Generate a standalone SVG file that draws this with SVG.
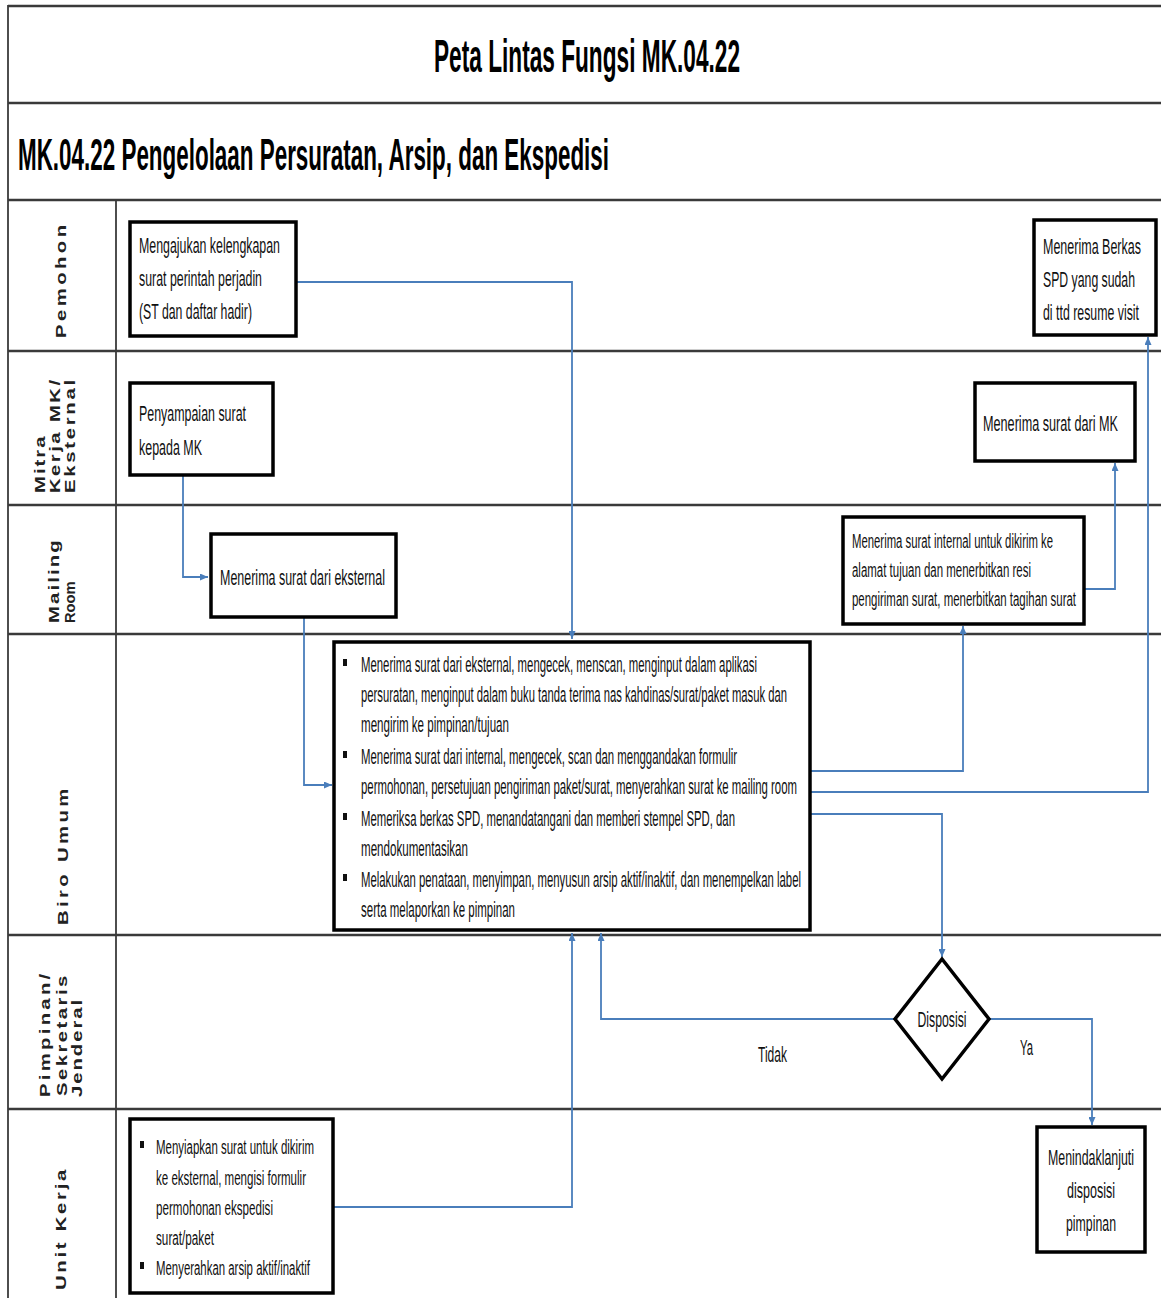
<svg xmlns="http://www.w3.org/2000/svg" width="1161" height="1298" viewBox="0 0 1161 1298">
<defs>
<style>
.frame{stroke:#3a3a3a;stroke-width:2.6;fill:none}
.vline{stroke:#3a3a3a;stroke-width:1.8;fill:none}
.box{fill:#fff;stroke:#000;stroke-width:3.5}
.dia{fill:#fff;stroke:#000;stroke-width:3.5}
.t{font-family:"Liberation Sans",Arial,sans-serif;font-size:22px;fill:#111}
.ts{font-family:"Liberation Sans",Arial,sans-serif;font-size:20px;fill:#111}
.lane{font-family:"Liberation Sans",Arial,sans-serif;font-size:14px;font-weight:bold;fill:#222}
.title{font-family:"Liberation Sans",Arial,sans-serif;font-weight:bold;fill:#000}
.conn{fill:none;stroke:#4A7EBB;stroke-width:1.8}
</style>
<marker id="ah" viewBox="0 0 8 7" refX="8" refY="3.5" markerWidth="8" markerHeight="7" markerUnits="userSpaceOnUse" orient="auto">
<path d="M0,0 L8,3.5 L0,7 z" fill="#4A7EBB"/>
</marker>
</defs>
<rect x="0" y="0" width="1161" height="1298" fill="#fff"/>

<g id="frame">
<line class="frame" x1="8" y1="6" x2="1161" y2="6"/>
<line class="frame" x1="8" y1="103" x2="1161" y2="103"/>
<line class="frame" x1="8" y1="200" x2="1161" y2="200"/>
<line class="frame" x1="8" y1="351" x2="1161" y2="351"/>
<line class="frame" x1="8" y1="505" x2="1161" y2="505"/>
<line class="frame" x1="8" y1="634" x2="1161" y2="634"/>
<line class="frame" x1="8" y1="935" x2="1161" y2="935"/>
<line class="frame" x1="8" y1="1109" x2="1161" y2="1109"/>
<line class="vline" x1="8" y1="5" x2="8" y2="1298"/>
<line class="vline" x1="116" y1="200" x2="116" y2="1298"/>
<text class="title" x="587" y="72" font-size="46" text-anchor="middle" textLength="306" lengthAdjust="spacingAndGlyphs">Peta Lintas Fungsi MK.04.22</text>
<text class="title" x="18" y="170" font-size="45" textLength="591" lengthAdjust="spacingAndGlyphs">MK.04.22 Pengelolaan Persuratan, Arsip, dan Ekspedisi</text>
</g>

<g id="lanes">
<text class="lane" transform="translate(66 338) rotate(-90) scale(1.45 1)" x="0" y="0" textLength="78" lengthAdjust="spacing">Pemohon</text>
<text class="lane" transform="translate(45 493) rotate(-90) scale(1.45 1)" x="0" y="0" textLength="39" lengthAdjust="spacing">Mitra</text>
<text class="lane" transform="translate(60 493) rotate(-90) scale(1.45 1)" x="0" y="0" textLength="78" lengthAdjust="spacing">Kerja MK/</text>
<text class="lane" transform="translate(75 493) rotate(-90) scale(1.45 1)" x="0" y="0" textLength="78" lengthAdjust="spacing">Eksternal</text>
<text class="lane" transform="translate(59 623) rotate(-90) scale(1.45 1)" x="0" y="0" textLength="57" lengthAdjust="spacing">Mailing</text>
<text class="lane" transform="translate(75 623) rotate(-90) scale(1.05 1)" x="0" y="0">Room</text>
<text class="lane" transform="translate(68 925) rotate(-90) scale(1.45 1)" x="0" y="0" textLength="94" lengthAdjust="spacing">Biro Umum</text>
<text class="lane" transform="translate(50 1097) rotate(-90) scale(1.45 1)" x="0" y="0" textLength="85" lengthAdjust="spacing">Pimpinan/</text>
<text class="lane" transform="translate(67 1096) rotate(-90) scale(1.45 1)" x="0" y="0" textLength="83" lengthAdjust="spacing">Sekretaris</text>
<text class="lane" transform="translate(82 1097) rotate(-90) scale(1.45 1)" x="0" y="0" textLength="67" lengthAdjust="spacing">Jenderal</text>
<text class="lane" transform="translate(66 1290) rotate(-90) scale(1.45 1)" x="0" y="0" textLength="83" lengthAdjust="spacing">Unit Kerja</text>
</g>

<g id="connectors">
<path class="conn" marker-end="url(#ah)" d="M296,282 H572 V639"/>
<path class="conn" marker-end="url(#ah)" d="M183,476 V577 H208"/>
<path class="conn" marker-end="url(#ah)" d="M304,618 V785 H332"/>
<path class="conn" marker-end="url(#ah)" d="M810,771 H963 V626"/>
<path class="conn" marker-end="url(#ah)" d="M810,792 H1148 V337"/>
<path class="conn" marker-end="url(#ah)" d="M810,814 H942 V957"/>
<path class="conn" marker-end="url(#ah)" d="M1084,589 H1115 V463"/>
<path class="conn" marker-end="url(#ah)" d="M895,1019 H601 V933"/>
<path class="conn" marker-end="url(#ah)" d="M989,1019 H1092 V1125"/>
<path class="conn" marker-end="url(#ah)" d="M334,1207 H572 V933"/>
<text class="t" x="758" y="1062" textLength="29" lengthAdjust="spacingAndGlyphs">Tidak</text>
<text class="t" x="1020" y="1055" textLength="13" lengthAdjust="spacingAndGlyphs">Ya</text>
</g>

<g id="n-mengajukan">
<rect class="box" x="130" y="222" width="166" height="114"/>
<text class="t" x="139" y="253" textLength="141" lengthAdjust="spacingAndGlyphs">Mengajukan  kelengkapan</text>
<text class="t" x="139" y="286" textLength="123" lengthAdjust="spacingAndGlyphs">surat perintah  perjadin</text>
<text class="t" x="139" y="319" textLength="113" lengthAdjust="spacingAndGlyphs">(ST dan daftar hadir)</text>
</g>

<g id="n-menerima-berkas">
<rect class="box" x="1034" y="220" width="122" height="115"/>
<text class="t" x="1043" y="254" textLength="98" lengthAdjust="spacingAndGlyphs">Menerima  Berkas</text>
<text class="t" x="1043" y="287" textLength="92" lengthAdjust="spacingAndGlyphs">SPD yang sudah</text>
<text class="t" x="1043" y="320" textLength="96" lengthAdjust="spacingAndGlyphs">di ttd resume visit</text>
</g>

<g id="n-penyampaian">
<rect class="box" x="130" y="383" width="143" height="92"/>
<text class="t" x="139" y="421" textLength="107" lengthAdjust="spacingAndGlyphs">Penyampaian  surat</text>
<text class="t" x="139" y="455" textLength="63" lengthAdjust="spacingAndGlyphs">kepada MK</text>
</g>

<g id="n-menerima-mk">
<rect class="box" x="975" y="383" width="160" height="78"/>
<text class="t" x="983" y="431" textLength="135" lengthAdjust="spacingAndGlyphs">Menerima  surat dari MK</text>
</g>

<g id="n-menerima-eksternal">
<rect class="box" x="211" y="534" width="185" height="83"/>
<text class="t" x="220" y="585" textLength="165" lengthAdjust="spacingAndGlyphs">Menerima  surat dari eksternal</text>
</g>

<g id="n-menerima-internal">
<rect class="box" x="843" y="517" width="241" height="107"/>
<text class="ts" x="852" y="548" textLength="201" lengthAdjust="spacingAndGlyphs">Menerima surat internal untuk dikirim ke</text>
<text class="ts" x="852" y="577" textLength="179" lengthAdjust="spacingAndGlyphs">alamat tujuan dan menerbitkan resi</text>
<text class="ts" x="852" y="606" textLength="224" lengthAdjust="spacingAndGlyphs">pengiriman surat, menerbitkan tagihan surat</text>
</g>

<g id="n-biro-umum">
<rect class="box" x="334" y="642" width="476" height="288"/>
<rect x="343" y="659" width="4" height="7" fill="#111"/>
<rect x="343" y="751" width="4" height="7" fill="#111"/>
<rect x="343" y="813" width="4" height="7" fill="#111"/>
<rect x="343" y="874" width="4" height="7" fill="#111"/>
<text class="t" x="361" y="672" textLength="396" lengthAdjust="spacingAndGlyphs">Menerima surat dari eksternal, mengecek, menscan, menginput dalam aplikasi</text>
<text class="t" x="361" y="702" textLength="426" lengthAdjust="spacingAndGlyphs">persuratan, menginput dalam buku tanda terima nas kahdinas/surat/paket masuk dan</text>
<text class="t" x="361" y="732" textLength="148" lengthAdjust="spacingAndGlyphs">mengirim ke pimpinan/tujuan</text>
<text class="t" x="361" y="764" textLength="376" lengthAdjust="spacingAndGlyphs">Menerima surat dari internal, mengecek, scan dan menggandakan formulir</text>
<text class="t" x="361" y="794" textLength="436" lengthAdjust="spacingAndGlyphs">permohonan, persetujuan pengiriman paket/surat, menyerahkan surat ke mailing room</text>
<text class="t" x="361" y="826" textLength="374" lengthAdjust="spacingAndGlyphs">Memeriksa berkas SPD, menandatangani dan memberi stempel SPD, dan</text>
<text class="t" x="361" y="856" textLength="107" lengthAdjust="spacingAndGlyphs">mendokumentasikan</text>
<text class="t" x="361" y="887" textLength="440" lengthAdjust="spacingAndGlyphs">Melakukan penataan, menyimpan, menyusun arsip aktif/inaktif, dan menempelkan label</text>
<text class="t" x="361" y="917" textLength="154" lengthAdjust="spacingAndGlyphs">serta melaporkan ke pimpinan</text>
</g>

<g id="n-disposisi">
<polygon class="dia" points="942,959 989,1019 942,1079 895,1019"/>
<text class="t" x="942" y="1027" text-anchor="middle" textLength="49" lengthAdjust="spacingAndGlyphs">Disposisi</text>
</g>

<g id="n-menindaklanjuti">
<rect class="box" x="1037" y="1127" width="108" height="125"/>
<text class="t" x="1091" y="1165" text-anchor="middle" textLength="86" lengthAdjust="spacingAndGlyphs">Menindaklanjuti</text>
<text class="t" x="1091" y="1198" text-anchor="middle" textLength="48" lengthAdjust="spacingAndGlyphs">disposisi</text>
<text class="t" x="1091" y="1231" text-anchor="middle" textLength="50" lengthAdjust="spacingAndGlyphs">pimpinan</text>
</g>

<g id="n-unit-kerja">
<rect class="box" x="130" y="1119" width="203" height="174"/>
<rect x="140" y="1141" width="4" height="7" fill="#111"/>
<rect x="140" y="1262" width="4" height="7" fill="#111"/>
<text class="ts" x="156" y="1154" textLength="158" lengthAdjust="spacingAndGlyphs">Menyiapkan surat untuk dikirim</text>
<text class="ts" x="156" y="1185" textLength="150" lengthAdjust="spacingAndGlyphs">ke eksternal, mengisi formulir</text>
<text class="ts" x="156" y="1215" textLength="117" lengthAdjust="spacingAndGlyphs">permohonan ekspedisi</text>
<text class="ts" x="156" y="1245" textLength="58" lengthAdjust="spacingAndGlyphs">surat/paket</text>
<text class="ts" x="156" y="1275" textLength="154" lengthAdjust="spacingAndGlyphs">Menyerahkan arsip aktif/inaktif</text>
</g>
</svg>
